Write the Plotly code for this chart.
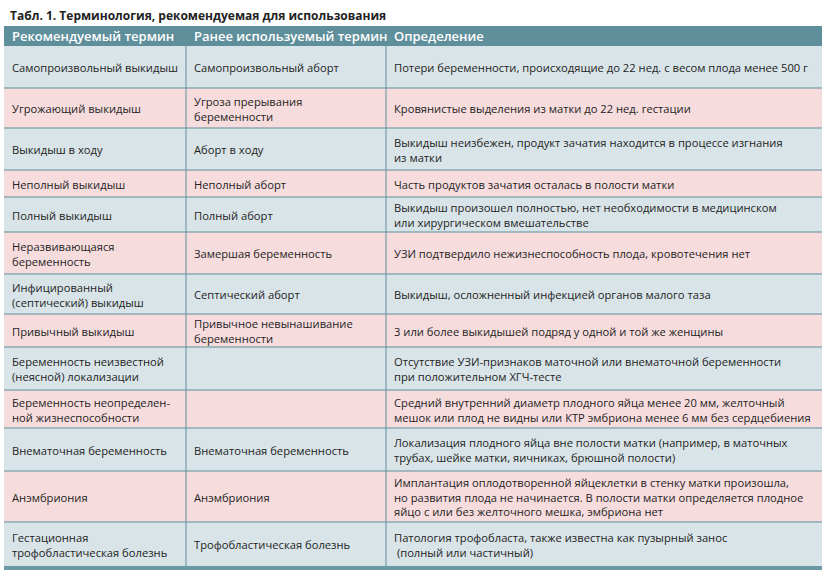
import plotly.graph_objects as go

title = "Табл. 1. Терминология, рекомендуемая для использования"
headers = ["Рекомендуемый термин", "Ранее используемый термин", "Определение"]

recommended = [
    "Самопроизвольный выкидыш",
    "Угрожающий выкидыш",
    "Выкидыш в ходу",
    "Неполный выкидыш",
    "Полный выкидыш",
    "Неразвивающаяся<br>беременность",
    "Инфицированный<br>(септический) выкидыш",
    "Привычный выкидыш",
    "Беременность неизвестной<br>(неясной) локализации",
    "Беременность неопределен-<br>ной жизнеспособности",
    "Внематочная беременность",
    "Анэмбриония",
    "Гестационная<br>трофобластическая болезнь",
]
previous = [
    "Самопроизвольный аборт",
    "Угроза прерывания<br>беременности",
    "Аборт в ходу",
    "Неполный аборт",
    "Полный аборт",
    "Замершая беременность",
    "Септический аборт",
    "Привычное невынашивание<br>беременности",
    "",
    "",
    "Внематочная беременность",
    "Анэмбриония",
    "Трофобластическая болезнь",
]
definitions = [
    "Потери беременности, происходящие до 22 нед. с весом плода менее 500 г",
    "Кровянистые выделения из матки до 22 нед. гестации",
    "Выкидыш неизбежен, продукт зачатия находится в процессе изгнания<br>из матки",
    "Часть продуктов зачатия осталась в полости матки",
    "Выкидыш произошел полностью, нет необходимости в медицинском<br>или хирургическом вмешательстве",
    "УЗИ подтвердило нежизнеспособность плода, кровотечения нет",
    "Выкидыш, осложненный инфекцией органов малого таза",
    "3 или более выкидышей подряд у одной и той же женщины",
    "Отсутствие УЗИ-признаков маточной или внематочной беременности<br>при положительном ХГЧ-тесте",
    "Средний внутренний диаметр плодного яйца менее 20 мм, желточный<br>мешок или плод не видны или КТР эмбриона менее 6 мм без сердцебиения",
    "Локализация плодного яйца вне полости матки (например, в маточных<br>трубах, шейке матки, яичниках, брюшной полости)",
    "Имплантация оплодотворенной яйцеклетки в стенку матки произошла,<br>но развития плода не начинается. В полости матки определяется плодное<br>яйцо с или без желточного мешка, эмбриона нет",
    "Патология трофобласта, также известна как пузырный занос<br> (полный или частичный)",
]

# ---- layout constants (pixel-like coordinates on hidden axes) ----
W, H = 830, 578
col_edges = [4, 186, 386, 822]
header_top, header_bot = 26, 46
row_edges = [46, 88, 128, 170, 197, 232, 274, 314, 347, 390, 428, 471, 522, 566]
pad = 6

HEAD = "#5f8f9b"
BLUE = "#d9e4e8"
PINK = "#f7dcdd"
LINE = "#5f8f9b"
TXT = "#1e1e1e"
FONT = "Open Sans"

shapes = []
annotations = []

# header
shapes.append(dict(type="rect", x0=col_edges[0], x1=col_edges[-1], y0=header_top, y1=header_bot,
                   fillcolor=HEAD, line=dict(width=0), layer="below"))
for j, h in enumerate(headers):
    annotations.append(dict(x=col_edges[j] + pad, y=(header_top + header_bot) / 2, text=h,
                            xanchor="left", yanchor="middle", showarrow=False,
                            font=dict(family=FONT, size=13, color="white", weight=600)))

# rows
columns = [recommended, previous, definitions]
for i in range(len(recommended)):
    y0, y1 = row_edges[i], row_edges[i + 1]
    shapes.append(dict(type="rect", x0=col_edges[0], x1=col_edges[-1], y0=y0, y1=y1,
                       fillcolor=BLUE if i % 2 == 0 else PINK, line=dict(width=0), layer="below"))
    for j, col in enumerate(columns):
        if col[i]:
            annotations.append(dict(x=col_edges[j] + pad, y=(y0 + y1) / 2 + 0.5, text=col[i],
                                    xanchor="left", yanchor="middle", align="left", showarrow=False,
                                    font=dict(family=FONT, size=11.2, color=TXT)))
    if i < len(recommended) - 1:
        shapes.append(dict(type="line", x0=col_edges[0], x1=col_edges[-1], y0=y1, y1=y1,
                           line=dict(color=LINE, width=1)))

# vertical separators
for x in col_edges[1:-1]:
    shapes.append(dict(type="line", x0=x, x1=x, y0=header_bot, y1=row_edges[-1],
                       line=dict(color=LINE, width=1)))

# bottom thick border
shapes.append(dict(type="rect", x0=col_edges[0], x1=col_edges[-1], y0=row_edges[-1], y1=row_edges[-1] + 4,
                   fillcolor="#6b99a5", line=dict(width=0)))

# title
annotations.append(dict(x=8, y=15, text="<b>" + title + "</b>", xanchor="left", yanchor="middle",
                        showarrow=False, font=dict(family=FONT, size=12, color="#222222")))

fig = go.Figure()
fig.update_layout(
    width=W, height=H, margin=dict(l=0, r=0, t=0, b=0),
    paper_bgcolor="white", plot_bgcolor="white",
    xaxis=dict(range=[0, W], visible=False, fixedrange=True),
    yaxis=dict(range=[H, 0], visible=False, fixedrange=True),
    shapes=shapes, annotations=annotations, showlegend=False,
)
fig.write_html("out.html", config={"displayModeBar": False},
               post_script="document.body.style.margin='0';document.body.style.overflow='hidden';")
